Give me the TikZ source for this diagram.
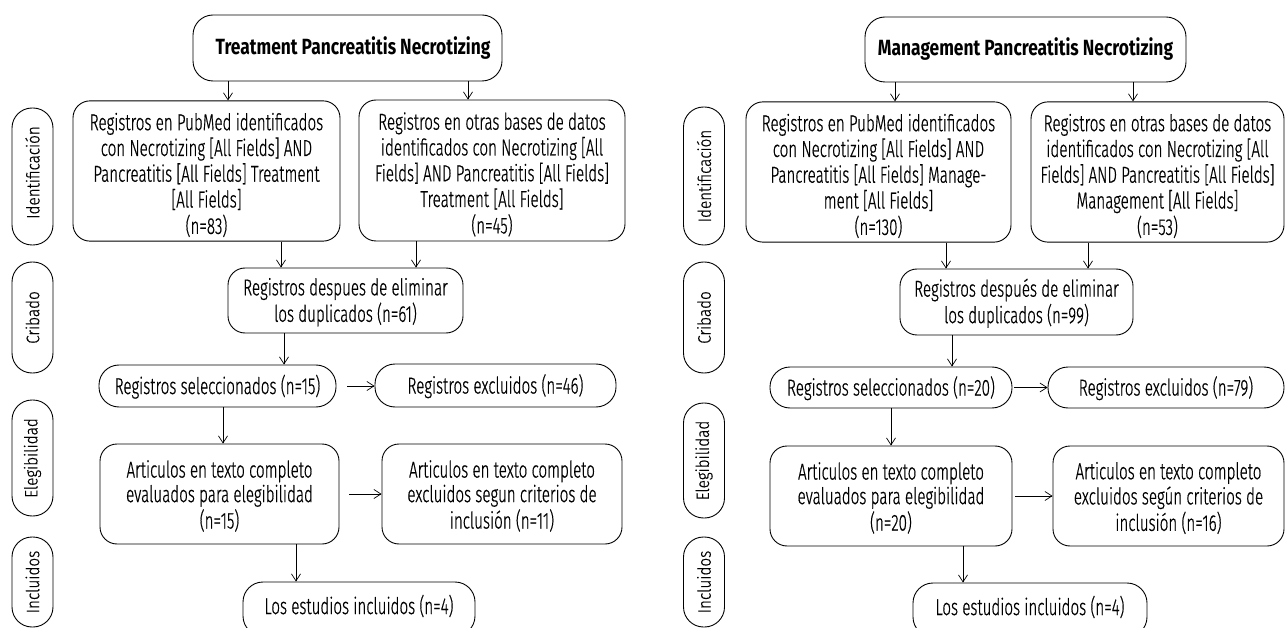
\documentclass[tikz,border=0pt]{standalone}
\usepackage{fontspec}
\setmainfont{Fira Sans Light}[FakeStretch=0.66, FakeBold=0.6]
\newfontfamily\titlefont{Fira Sans}[FakeStretch=0.79]
\newfontfamily\pillfont{Fira Sans Light}[FakeStretch=0.85, FakeBold=0.6]
\usetikzlibrary{arrows.meta}
% text block lowered by half of #1 inside its box
\newcommand\tx[2]{\raisebox{0pt}[\dimexpr\height+#1\relax][\depth]{\begin{tabular}{@{}c@{}}#2\end{tabular}}}
% text raised by half of #1 inside its box
\newcommand\txup[2]{\raisebox{0pt}[\height][\dimexpr\depth+#1\relax]{#2}}
\begin{document}
\begin{tikzpicture}[x=1pt,y=-1pt,
 box/.style={draw, line width=0.9pt, rounded corners=17pt, align=center, inner sep=0pt, font=\fontsize{23}{24}\selectfont},
 ttl/.style={box, rounded corners=20pt, font=\titlefont\bfseries\fontsize{22}{24}\selectfont},
 stad/.style={box, rounded corners=20pt},
 pill/.style={draw, line width=0.9pt, rounded corners=20pt, inner sep=0pt, rotate=90, minimum height=41pt, font=\pillfont\fontsize{18}{20}\selectfont},
 arr/.style={-{Straight Barb[length=7pt,width=9pt]}, line width=0.7pt}
]
\useasboundingbox (0,0) rectangle (1285,628);

% ---------------- left panel ----------------
\node[pill, minimum width=137pt] (lI) at (32.5,176.5) {\hspace*{8pt}Identificación};
\node[pill, minimum width=111pt] (lC) at (32.5,317.5) {Cribado};
\node[pill, minimum width=116pt] (lE) at (32.5,458) {Elegibilidad};
\node[pill, minimum width=90pt]  (lN) at (32.5,582) {Incluidos};

\node[ttl, minimum width=309pt, minimum height=66pt] (t1) at (347.5,48) {\hspace*{11pt}Treatment Pancreatitis Necrotizing};
\node[box, minimum width=267pt, minimum height=140pt] (p1) at (206.5,171) {\tx{12pt}{Registros en PubMed identificados\\con Necrotizing [All Fields] AND\\Pancreatitis [All Fields] Treatment\\{}[All Fields]\\(n=83)}};
\node[box, minimum width=266pt, minimum height=141pt] (o1) at (492,170.5) {\tx{12pt}{Registros en otras bases de datos\\identificados con Necrotizing [All\\Fields] AND Pancreatitis [All Fields]\\Treatment [All Fields]\\(n=45)}};
\node[box, minimum width=235pt, minimum height=65pt] (d1) at (345.5,300.5) {\tx{6pt}{Registros despues de eliminar\\los duplicados (n=61)}};
\node[stad, minimum width=237pt, minimum height=42pt] (s1) at (217.5,386) {\tx{4pt}{Registros seleccionados (n=15)}};
\node[stad, minimum width=241pt, minimum height=43pt] (x1) at (495.5,385.5) {\tx{4pt}{Registros excluidos (n=46)}};
\node[box, minimum width=239pt, minimum height=100pt] (a1) at (219.5,494) {\tx{8pt}{Articulos en texto completo\\evaluados para elegibilidad\\(n=15)}};
\node[box, minimum width=240pt, minimum height=100pt] (e1) at (502,494) {\tx{8pt}{Articulos en texto completo\\excluidos segun criterios de\\inclusión (n=11)}};
\node[stad, minimum width=232pt, minimum height=54pt] (i1) at (359,609) {\txup{6pt}{Los estudios incluidos (n=4)}};

\draw[arr] (228,0 |- t1.south) -- (228,0 |- p1.north);
\draw[arr] (468,0 |- t1.south) -- (468,0 |- o1.north);
\draw[arr] (281,0 |- p1.south) -- (281,0 |- d1.north);
\draw[arr] (416,0 |- o1.south) -- (416,0 |- d1.north);
\draw[arr] (284,0 |- d1.south) -- (284,0 |- s1.north);
\draw[arr, shorten <=11pt] (s1.east) -- (s1.east -| x1.west);
\draw[arr] (223,0 |- s1.south) -- (223,0 |- a1.north);
\draw[arr, shorten <=10pt] (a1.east) -- (a1.east -| e1.west);
\draw[arr] (296,0 |- a1.south) -- (296,0 |- i1.north);

% ---------------- right panel ----------------
\node[pill, minimum width=138pt] (rI) at (704,176) {Identificación};
\node[pill, minimum width=111pt] (rC) at (704,317.5) {Cribado};
\node[pill, minimum width=115pt] (rE) at (704,460.5) {Elegibilidad};
\node[pill, minimum width=90pt]  (rN) at (704,582) {Incluidos};

\node[ttl, minimum width=321pt, minimum height=65pt] (t2) at (1025.5,49.5) {Management Pancreatitis Necrotizing};
\node[box, minimum width=265pt, minimum height=140pt] (p2) at (878.5,172) {\tx{12pt}{Registros en PubMed identificados\\con Necrotizing [All Fields] AND\\Pancreatitis [All Fields] Manage-\\ment [All Fields]\\(n=130)}};
\node[box, minimum width=253pt, minimum height=140pt] (o2) at (1157.5,172) {\tx{12pt}{Registros en otras bases de datos\\identificados con Necrotizing [All\\Fields] AND Pancreatitis [All Fields]\\Management [All Fields]\\(n=53)}};
\node[box, minimum width=233pt, minimum height=66pt] (d2) at (1016.5,302) {\tx{5pt}{Registros después de eliminar\\los duplicados (n=99)}};
\node[stad, minimum width=242pt, minimum height=41pt] (s2) at (891,387.5) {\tx{4pt}{Registros seleccionados (n=20)}};
\node[stad, minimum width=236pt, minimum height=41pt] (x2) at (1166,387.5) {\tx{4pt}{Registros excluidos (n=79)}};
\node[box, minimum width=242pt, minimum height=100pt] (a2) at (891,496) {\tx{8pt}{Articulos en texto completo\\evaluados para elegibilidad\\(n=20)}};
\node[box, minimum width=231pt, minimum height=100pt] (e2) at (1168.5,496) {\tx{8pt}{Articulos en texto completo\\excluidos según criterios de\\inclusión (n=16)}};
\node[stad, minimum width=234pt, minimum height=54pt] (i2) at (1030,610) {\txup{6pt}{Los estudios incluidos (n=4)}};

\draw[arr] (895,0 |- t2.south) -- (895,0 |- p2.north);
\draw[arr] (1133,0 |- t2.south) -- (1133,0 |- o2.north);
\draw[arr] (946,0 |- p2.south) -- (946,0 |- d2.north);
\draw[arr] (1088,0 |- o2.south) -- (1088,0 |- d2.north);
\draw[arr] (952,0 |- d2.south) -- (952,0 |- s2.north);
\draw[arr, shorten <=2pt] (s2.east) -- (s2.east -| x2.west);
\draw[arr] (891,0 |- s2.south) -- (891,0 |- a2.north);
\draw[arr, shorten <=3pt] (a2.east) -- (a2.east -| e2.west);
\draw[arr] (963,0 |- a2.south) -- (963,0 |- i2.north);
\end{tikzpicture}
\end{document}
